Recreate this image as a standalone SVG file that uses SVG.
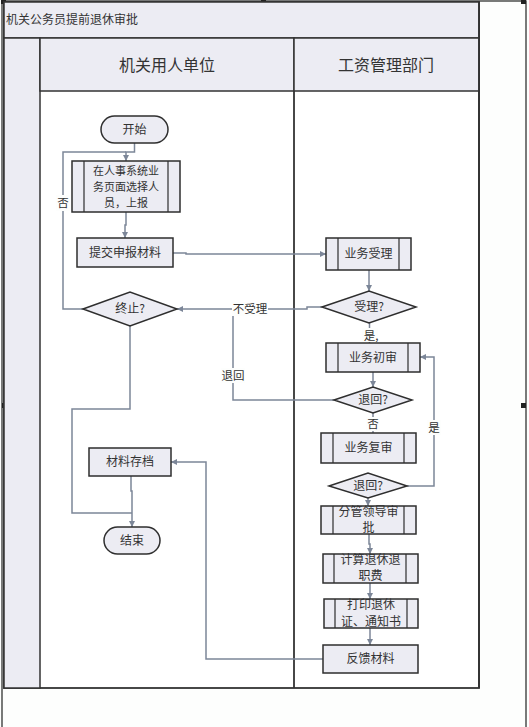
<svg xmlns="http://www.w3.org/2000/svg" width="529" height="727" viewBox="0 0 529 727">
<style>
text{font-family:"Noto Sans CJK SC","Liberation Sans",sans-serif;fill:#333;}
.nt{font-size:12px;text-anchor:middle;}
.hd{font-size:16px;text-anchor:middle;}
.lb{font-size:11.5px;text-anchor:middle;}
.box{fill:#ECECF3;stroke:#2E2E2E;stroke-width:1.5;}
.sub{fill:none;stroke:#2E2E2E;stroke-width:1.2;}
.ln{fill:none;stroke:#333;stroke-width:1.8;}
.c{fill:none;stroke:#7C8698;stroke-width:1.5;}
.ca{fill:none;stroke:#7C8698;stroke-width:1.5;marker-end:url(#ah);}
.lbg{fill:#FDFEFD;}
.hdl{fill:#222;}
</style>
<defs>
<marker id="ah" viewBox="0 0 10 10" refX="10" refY="5" markerWidth="6" markerHeight="6" orient="auto" markerUnits="userSpaceOnUse">
<path d="M0,0 L10,5 L0,10 Z" fill="#7C8698"/>
</marker>
</defs>
<rect x="0" y="0" width="529" height="727" fill="#FDFEFD"/>
<g id="frame">
<rect x="2" y="1" width="524" height="740" fill="none" stroke="#222" stroke-width="1.2"/>
<rect class="hdl" x="1" y="0" width="5" height="4"/>
<rect class="hdl" x="261" y="0" width="5" height="4"/>
<rect class="hdl" x="521" y="0" width="5" height="4"/>
<rect class="hdl" x="521" y="403" width="5" height="5"/>
<rect class="hdl" x="2" y="403" width="5" height="5"/>
</g>
<g id="pool">
<rect x="4" y="2" width="475" height="686" fill="#FFFFFF" stroke="#333" stroke-width="1.8"/>
<rect x="4" y="2" width="475" height="36" fill="#ECECF3" stroke="#333" stroke-width="1.5"/>
<text x="6" y="24" style="font-size:12px">机关公务员提前退休审批</text>
<rect x="4" y="38" width="36" height="650" fill="#ECECF3" stroke="#333" stroke-width="1.5"/>
<rect x="40" y="38" width="254" height="53" fill="#ECECF3" stroke="#333" stroke-width="1.5"/>
<rect x="294" y="38" width="185" height="53" fill="#ECECF3" stroke="#333" stroke-width="1.5"/>
<line class="ln" x1="294" y1="91" x2="294" y2="688"/>
<line class="ln" x1="479" y1="2" x2="479" y2="688"/>
<text class="hd" x="167" y="71">机关用人单位</text>
<text class="hd" x="386" y="71">工资管理部门</text>
</g>
<g id="connectors">
<path class="c" d="M83,309 H63 V152 H126"/>
<path class="ca" d="M134.5,143 V152 H126 V161"/>
<path class="ca" d="M126,212 V225 H125 V238"/>
<path class="ca" d="M173,253 H186 V254 H326"/>
<path class="ca" d="M369,270 V291"/>
<path class="ca" d="M322,307 H307 V309 H177"/>
<path class="ca" d="M369.5,323 V343"/>
<path class="ca" d="M373,372 V387"/>
<path class="c" d="M334,400 H233 V309"/>
<path class="c" d="M373,413 V433"/>
<path class="ca" d="M407,486 H434 V357 H420"/>
<path class="ca" d="M368,498 V506"/>
<path class="ca" d="M369,534 V544 H370 V554"/>
<path class="ca" d="M370,583 V599"/>
<path class="ca" d="M370,628 V645"/>
<path class="ca" d="M323,659 H206 V462 H171"/>
<path class="ca" d="M131,476 V491 H132 V527"/>
<path class="c" d="M130,326 V409 H72 V513 H132"/>
<rect class="lbg" x="56" y="195" width="14" height="16"/>
<text class="lb" x="63" y="207">否</text>
<rect class="lbg" x="232" y="302" width="36" height="14"/>
<text class="lb" x="250" y="313">不受理</text>
<rect class="lbg" x="221" y="368" width="24" height="15"/>
<text class="lb" x="233" y="380">退回</text>
<rect class="lbg" x="362" y="328" width="16" height="14"/>
<text class="lb" x="371" y="340">是,</text>
<rect class="lbg" x="366" y="417" width="14" height="14"/>
<text class="lb" x="373" y="428">否</text>
<rect class="lbg" x="427" y="420" width="14" height="15"/>
<text class="lb" x="434" y="432">是</text>
</g>
<g id="start">
<rect class="box" x="101" y="116" width="67" height="27" rx="13.5"/>
<text class="nt" x="134.5" y="134">开始</text>
</g>
<g id="select">
<rect class="box" x="72" y="161" width="108" height="51"/>
<line class="sub" x1="84" y1="161" x2="84" y2="212"/>
<line class="sub" x1="168" y1="161" x2="168" y2="212"/>
<text class="nt" x="126" y="175" style="font-size:11px">在人事系统业</text>
<text class="nt" x="126" y="191" style="font-size:11px">务页面选择人</text>
<text class="nt" x="126" y="207" style="font-size:11px">员，上报</text>
</g>
<g id="submit">
<rect class="box" x="77" y="238" width="96" height="29"/>
<text class="nt" x="125" y="257">提交申报材料</text>
</g>
<g id="terminate">
<polygon class="box" points="83,309 130,292 177,309 130,326"/>
<text class="nt" x="130" y="313">终止?</text>
</g>
<g id="archive">
<rect class="box" x="89" y="448" width="82" height="28"/>
<text class="nt" x="130" y="466">材料存档</text>
</g>
<g id="end">
<rect class="box" x="104" y="527" width="56" height="27" rx="13.5"/>
<text class="nt" x="132" y="545">结束</text>
</g>
<g id="accept">
<rect class="box" x="326" y="238" width="85" height="32"/>
<line class="sub" x1="338" y1="238" x2="338" y2="270"/>
<line class="sub" x1="399" y1="238" x2="399" y2="270"/>
<text class="nt" x="368.5" y="258">业务受理</text>
</g>
<g id="acceptQ">
<polygon class="box" points="322,307 369,291 416,307 369,323"/>
<text class="nt" x="369" y="311">受理?</text>
</g>
<g id="review1">
<rect class="box" x="326" y="343" width="94" height="29"/>
<line class="sub" x1="338" y1="343" x2="338" y2="372"/>
<line class="sub" x1="408" y1="343" x2="408" y2="372"/>
<text class="nt" x="373" y="362">业务初审</text>
</g>
<g id="returnQ1">
<polygon class="box" points="334,400 373,387 412,400 373,413"/>
<text class="nt" x="373" y="404">退回?</text>
</g>
<g id="review2">
<rect class="box" x="321" y="433" width="95" height="30"/>
<line class="sub" x1="333" y1="433" x2="333" y2="463"/>
<line class="sub" x1="404" y1="433" x2="404" y2="463"/>
<text class="nt" x="368.5" y="452">业务复审</text>
</g>
<g id="returnQ2">
<polygon class="box" points="329,486 368,473 407,486 368,498"/>
<text class="nt" x="368" y="490">退回?</text>
</g>
<g id="leader">
<rect class="box" x="321" y="506" width="95" height="28"/>
<line class="sub" x1="333" y1="506" x2="333" y2="534"/>
<line class="sub" x1="404" y1="506" x2="404" y2="534"/>
<text class="nt" x="368.5" y="516">分管领导审</text>
<text class="nt" x="368.5" y="532">批</text>
</g>
<g id="calc">
<rect class="box" x="323" y="554" width="95" height="29"/>
<line class="sub" x1="334" y1="554" x2="334" y2="583"/>
<line class="sub" x1="406" y1="554" x2="406" y2="583"/>
<text class="nt" x="370.5" y="564">计算退休退</text>
<text class="nt" x="370.5" y="580">职费</text>
</g>
<g id="print">
<rect class="box" x="324" y="599" width="94" height="29"/>
<line class="sub" x1="335" y1="599" x2="335" y2="628"/>
<line class="sub" x1="407" y1="599" x2="407" y2="628"/>
<text class="nt" x="371" y="609">打印退休</text>
<text class="nt" x="371" y="626">证、通知书</text>
</g>
<g id="feedback">
<rect class="box" x="323" y="645" width="95" height="28"/>
<text class="nt" x="370.5" y="663">反馈材料</text>
</g>
</svg>
